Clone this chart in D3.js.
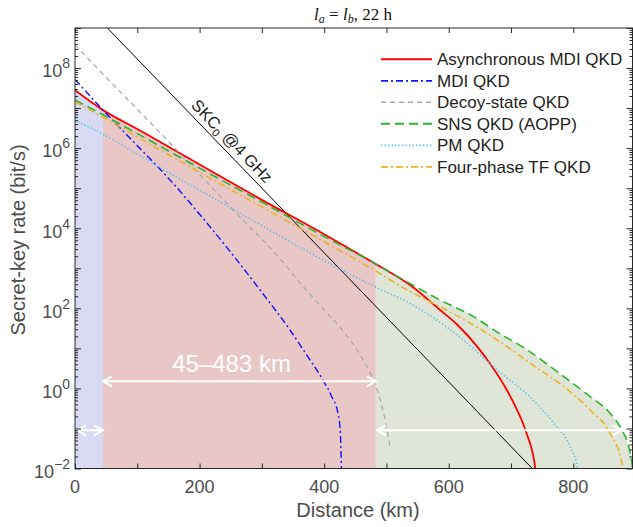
<!DOCTYPE html>
<html>
<head>
<meta charset="utf-8">
<script src="https://cdn.jsdelivr.net/npm/d3@7"></script>
<style>
  body { margin: 0; background: #fff; }
  text { font-family: "Liberation Sans", Arial, Helvetica, sans-serif; }
</style>
</head>
<body>
<svg id="chart" width="633" height="527"></svg>
<script>
// values: distance (km) vs secret-key rate (bit/s)
const asyncDist = [0, 45, 100, 200, 300, 400, 480, 540, 586, 613, 648, 667, 690, 704, 723, 739, 742];
const asyncRate = [2.8e7, 8.9e6, 3.0e6, 3.9e5, 5.1e4, 7.1e3, 1.35e3, 3.6e2, 91, 40, 10, 4.0, 1.12, 0.44, 0.091, 0.01, 0.0025];

const mdiDist = [0, 45, 100, 150, 200, 250, 300, 345, 370, 398, 412, 422, 426, 428];
const mdiRate = [5.2e7, 8.9e6, 1.15e6, 1.78e5, 2.24e4, 2.5e3, 251, 29, 7.6, 1.62, 0.63, 0.245, 0.079, 0.0063];

const decoyDist = [0, 8, 153, 250, 340, 361, 400, 429, 460, 479, 492, 501, 506];
const decoyRate = [3.8e8, 2.8e8, 1.32e6, 3.3e4, 1.1e3, 437, 91, 29, 6.0, 1.62, 0.4, 0.093, 0.032];

const snsDist = [0, 45, 100, 200, 300, 400, 483, 533, 586, 640, 677, 720, 785, 827, 859, 878, 889, 894, 897];
const snsRate = [1.58e7, 6.8e6, 2.3e6, 3.16e5, 4.5e4, 6.2e3, 1.29e3, 457, 162, 62, 26, 10.5, 1.95, 0.62, 0.24, 0.091, 0.035, 0.0138, 0.005];

const pmDist = [0, 45, 100, 153, 200, 300, 400, 480, 533, 580, 620, 650, 680, 730, 770, 795, 806, 808];
const pmRate = [5.0e6, 2.24e6, 7.1e5, 2.3e5, 8.9e4, 1.17e4, 1.55e3, 355, 145, 52, 17.8, 7.1, 2.7, 0.62, 0.126, 0.035, 0.0112, 0.005];

const tfDist = [0, 45, 100, 200, 300, 400, 480, 533, 586, 640, 693, 731, 785, 827, 859, 878, 881];
const tfRate = [1.45e7, 5.9e6, 1.9e6, 2.5e5, 3.4e4, 4.6e3, 910, 288, 110, 38, 11.2, 4.2, 1.1, 0.29, 0.076, 0.0135, 0.005];

const skcDist = [0, 900];
const skcRate = [6.9e9, 2.1e-5];

const regionEdges = [0, 45, 483, 895];   // km
const xTicks = [0, 100, 200, 300, 400, 500, 600, 700, 800];
const xLabels = [0, 200, 400, 600, 800];
const yLabelExp = [-2, 0, 2, 4, 6, 8];

const W = 633, H = 527;
const svg = d3.select("#chart");

const x = d3.scaleLinear().domain([0, 895]).range([75, 632.5]);
const y = d3.scaleLog().domain([1e-2, 1e9]).range([468.5, 28]);

const zip = (a, b) => a.map((d, i) => [d, b[i]]);

const defs = svg.append("defs");
defs.append("clipPath").attr("id", "plot")
  .append("rect").attr("x", x(0)).attr("y", y(1e9))
  .attr("width", x(895) - x(0)).attr("height", y(1e-2) - y(1e9));

// shaded regions
const regionColors = ["#d8d9f3", "#e9c7c7", "#dfe6d8"];
const regionTop = [zip(asyncDist, asyncRate), zip(asyncDist, asyncRate), zip(snsDist, snsRate)];
const area = d3.area()
  .x(d => x(d[0])).y0(y(1e-2)).y1(d => y(d[1]))
  .curve(d3.curveMonotoneX);

regionColors.forEach((c, i) => {
  defs.append("clipPath").attr("id", "reg" + i)
    .append("rect")
    .attr("x", x(regionEdges[i])).attr("y", y(1e9))
    .attr("width", x(regionEdges[i + 1]) - x(regionEdges[i]))
    .attr("height", y(1e-2) - y(1e9));
  svg.append("g").attr("clip-path", "url(#plot)")
    .append("path")
    .attr("clip-path", `url(#reg${i})`)
    .attr("d", area(regionTop[i]))
    .attr("fill", c);
});

// curves
const series = [
  { name: "Asynchronous MDI QKD", dist: asyncDist, rate: asyncRate, color: "#ff0000", w: 1.8, dash: null },
  { name: "MDI QKD", dist: mdiDist, rate: mdiRate, color: "#1010ff", w: 1.4, dash: "7,3,2,3" },
  { name: "Decoy-state QKD", dist: decoyDist, rate: decoyRate, color: "#aaaaaa", w: 1.3, dash: "5,4" },
  { name: "SNS QKD (AOPP)", dist: snsDist, rate: snsRate, color: "#2db52d", w: 1.6, dash: "9,5" },
  { name: "PM QKD", dist: pmDist, rate: pmRate, color: "#4dbeee", w: 1.5, dash: "1.3,2.2" },
  { name: "Four-phase TF QKD", dist: tfDist, rate: tfRate, color: "#edb120", w: 1.5, dash: "7,3,2,3" }
];

const line = d3.line().x(d => x(d[0])).y(d => y(d[1])).curve(d3.curveMonotoneX);
const plot = svg.append("g").attr("clip-path", "url(#plot)");

plot.append("path")
  .attr("d", d3.line().x(d => x(d[0])).y(d => y(d[1]))(zip(skcDist, skcRate)))
  .attr("fill", "none").attr("stroke", "#000").attr("stroke-width", 1);

series.forEach(s => {
  plot.append("path")
    .attr("d", line(zip(s.dist, s.rate)))
    .attr("fill", "none")
    .attr("stroke", s.color)
    .attr("stroke-width", s.w)
    .attr("stroke-dasharray", s.dash);
});

// SKC0 label along the black line
const skcAngle = Math.atan2(y(skcRate[1]) - y(skcRate[0]), x(skcDist[1]) - x(skcDist[0])) * 180 / Math.PI;
const skcLab = svg.append("text")
  .attr("transform", `translate(232,141) rotate(${skcAngle})`)
  .attr("text-anchor", "middle").attr("dy", "0.35em")
  .attr("font-size", 16.5).attr("fill", "#231f20");
skcLab.append("tspan").text("SKC");
skcLab.append("tspan").attr("font-size", 11).attr("dy", 4).text("0");
skcLab.append("tspan").attr("dy", -4).text(" @4 GHz");

// white arrows
const arrows = [
  { from: 45, to: 483, rate: 1.5 },
  { from: 3, to: 45, rate: 0.09 },
  { from: 485, to: 878, rate: 0.09 }
];
const head = (px, py, dir) => `M${px + dir * 9},${py - 5}L${px},${py}L${px + dir * 9},${py + 5}`;
arrows.forEach(a => {
  const x1 = x(a.from), x2 = x(a.to), yy = y(a.rate);
  svg.append("path")
    .attr("d", `M${x1},${yy}L${x2},${yy}` + head(x1, yy, 1) + head(x2, yy, -1))
    .attr("fill", "none").attr("stroke", "#fff").attr("stroke-width", 2);
});
svg.append("text")
  .attr("x", 231.5).attr("y", 372)
  .attr("text-anchor", "middle")
  .attr("font-size", 24).attr("fill", "#fff")
  .text("45–483 km");

// axes
const axisColor = "#262626";
const minorVals = [];
for (let e = -2; e < 9; e++) for (let m = 2; m <= 9; m++) minorVals.push(m * Math.pow(10, e));
const majorVals = d3.range(-2, 10).map(e => Math.pow(10, e));

function styleAxis(g) {
  g.select(".domain").remove();
  g.selectAll(".tick line").attr("stroke", axisColor);
  g.selectAll(".tick text").remove();
}

svg.append("g").attr("transform", `translate(0,${y(1e-2)})`)
  .call(d3.axisBottom(x).tickValues(xTicks).tickSize(-5)).call(styleAxis);
svg.append("g").attr("transform", `translate(0,${y(1e9)})`)
  .call(d3.axisTop(x).tickValues(xTicks).tickSize(-5)).call(styleAxis);
svg.append("g").attr("transform", `translate(${x(0)},0)`)
  .call(d3.axisLeft(y).tickValues(majorVals).tickSize(-6)).call(styleAxis);
svg.append("g").attr("transform", `translate(${x(0)},0)`)
  .call(d3.axisLeft(y).tickValues(minorVals).tickSize(-3)).call(styleAxis);
svg.append("g").attr("transform", `translate(${x(895)},0)`)
  .call(d3.axisRight(y).tickValues(majorVals).tickSize(-6)).call(styleAxis);
svg.append("g").attr("transform", `translate(${x(895)},0)`)
  .call(d3.axisRight(y).tickValues(minorVals).tickSize(-3)).call(styleAxis);

svg.append("rect")
  .attr("x", x(0)).attr("y", y(1e9))
  .attr("width", x(895) - x(0)).attr("height", y(1e-2) - y(1e9))
  .attr("fill", "none").attr("stroke", axisColor).attr("stroke-width", 1);

// tick labels
const labColor = "#4d4d4d";
xLabels.forEach(v => {
  svg.append("text")
    .attr("x", x(v)).attr("y", 493)
    .attr("text-anchor", "middle").attr("font-size", 18).attr("fill", labColor)
    .text(v);
});
yLabelExp.forEach(e => {
  const ty = y(Math.pow(10, e));
  const t = svg.append("text")
    .attr("x", 70).attr("y", ty + 9.3)
    .attr("text-anchor", "end").attr("font-size", 18).attr("fill", labColor);
  t.append("tspan").text("10");
  t.append("tspan").attr("font-size", 14).attr("dy", -9).text(e < 0 ? "−" + (-e) : e);
});

// axis titles
svg.append("text")
  .attr("x", 358).attr("y", 517)
  .attr("text-anchor", "middle").attr("font-size", 20).attr("fill", labColor)
  .text("Distance (km)");
svg.append("text")
  .attr("transform", "translate(25,240) rotate(-90)")
  .attr("text-anchor", "middle").attr("font-size", 20).attr("fill", labColor)
  .text("Secret-key rate (bit/s)");

// title
const title = svg.append("text")
  .attr("x", 353).attr("y", 19.5)
  .attr("text-anchor", "middle")
  .attr("font-size", 17).attr("fill", "#111")
  .style("font-family", '"Liberation Serif", "DejaVu Serif", serif');
title.append("tspan").attr("font-style", "italic").text("l");
title.append("tspan").attr("font-style", "italic").attr("font-size", 12).attr("dy", 3).text("a");
title.append("tspan").attr("dy", -3).text(" = ");
title.append("tspan").attr("font-style", "italic").text("l");
title.append("tspan").attr("font-style", "italic").attr("font-size", 12).attr("dy", 3).text("b");
title.append("tspan").attr("dy", -3).text(", 22 h");

// legend
const legend = svg.append("g");
series.forEach((s, i) => {
  const ly = 59.3 + i * 21.5;
  legend.append("line")
    .attr("x1", 381).attr("x2", 432).attr("y1", ly).attr("y2", ly)
    .attr("stroke", s.color).attr("stroke-width", s.w + 0.3)
    .attr("stroke-dasharray", s.dash);
  legend.append("text")
    .attr("x", 437).attr("y", ly + 5.8)
    .attr("font-size", 17).attr("fill", "#231f20")
    .text(s.name);
});
</script>
</body>
</html>
